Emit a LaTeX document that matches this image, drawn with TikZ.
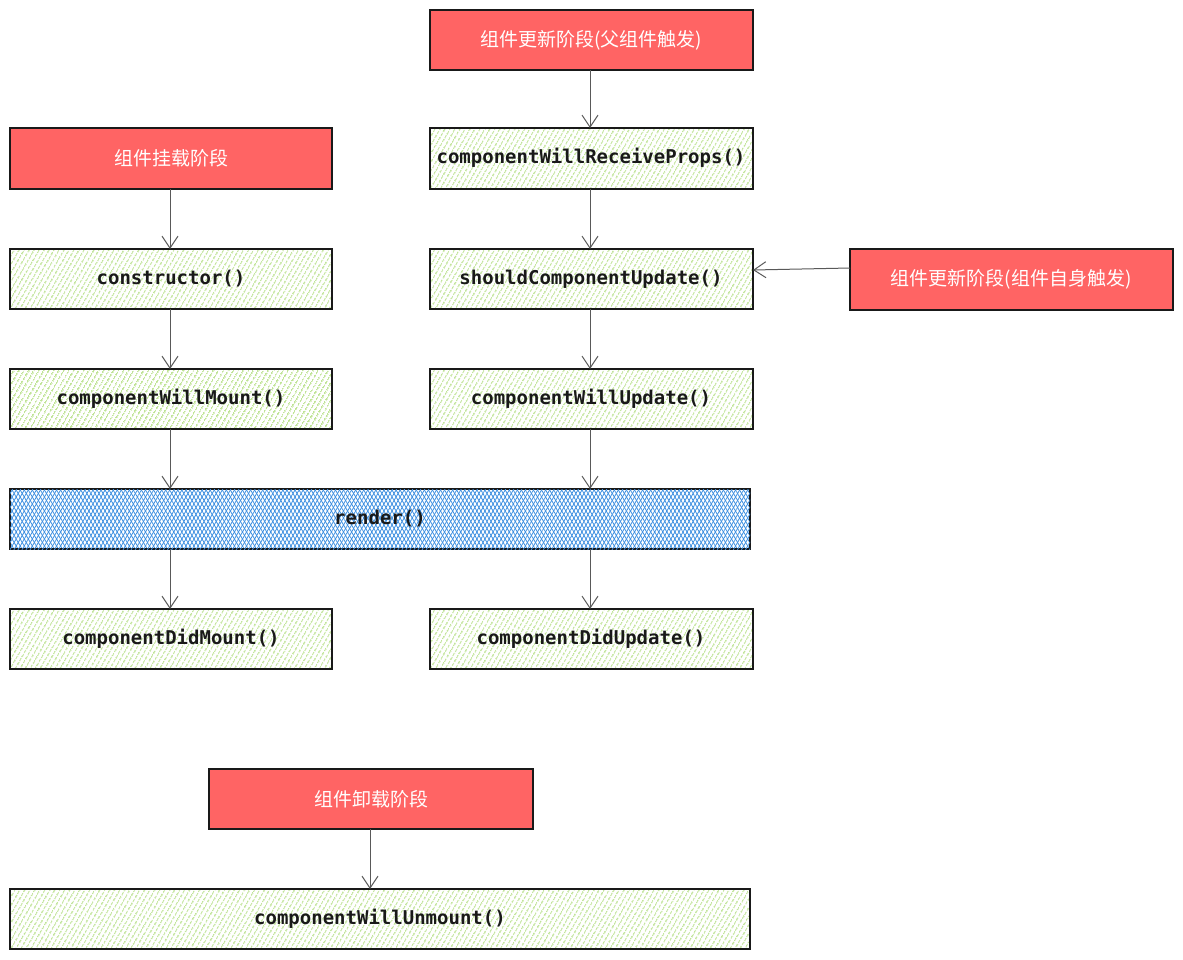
\documentclass[tikz,border=0pt]{standalone}
\usepackage{fontspec}
\newfontfamily\cjk{Noto Sans CJK SC}
\newfontfamily\mono{DejaVu Sans Mono}
\usetikzlibrary{patterns.meta,arrows.meta}
\definecolor{hgreen}{HTML}{9ED560}
\definecolor{hblue}{HTML}{3D8FE0}
\definecolor{rfill}{HTML}{FF6464}
\begin{document}
\begin{tikzpicture}[x=1pt,y=-1pt,
 box/.style={draw=black!90,line width=1.4pt,inner sep=0pt},
 green/.style={box,pattern={Lines[angle=60,distance=4pt,line width=1pt]},pattern color=hgreen},
 red/.style={box,fill=rfill},
 blue/.style={box,postaction={pattern={Lines[angle=60,distance=3.5pt,line width=0.8pt]},pattern color=hblue},pattern={Lines[angle=-60,distance=3.5pt,line width=0.8pt]},pattern color=hblue},
 lab/.style={font=\mono\bfseries\fontsize{19}{22}\selectfont,text=black!90},
 clab/.style={font=\cjk\fontsize{19}{22}\selectfont,text=white},
 arr/.style={draw=black!65,line width=1pt,-{Straight Barb[length=12pt,width=16pt]}}]
\useasboundingbox (0,0) rectangle (1183,959);
\draw[red] (430,10) rectangle (753,70); \node[clab] (pu) at (591,40) {组件更新阶段(父组件触发)};
\draw[red] (10,128) rectangle (332,189); \node[clab] (mt) at (171,158) {组件挂载阶段};
\draw[green] (430,128) rectangle (753,189); \node[lab] (wrp) at (591,158) {componentWillReceiveProps()};
\draw[green] (10,249) rectangle (332,309); \node[lab] (ctor) at (171,279) {constructor()};
\draw[green] (430,249) rectangle (753,309); \node[lab] (scu) at (591,279) {shouldComponentUpdate()};
\draw[red] (850,249) rectangle (1173,310); \node[clab] (su) at (1011,279) {组件更新阶段(组件自身触发)};
\draw[green] (10,369) rectangle (332,429); \node[lab] (wm) at (171,399) {componentWillMount()};
\draw[green] (430,369) rectangle (753,429); \node[lab] (wu) at (591,399) {componentWillUpdate()};
\draw[blue] (10,489) rectangle (750,549); \node[lab] (rd) at (380,519) {render()};
\draw[green] (10,609) rectangle (332,669); \node[lab] (dm) at (171,639) {componentDidMount()};
\draw[green] (430,609) rectangle (753,669); \node[lab] (du) at (591,639) {componentDidUpdate()};
\draw[red] (209,769) rectangle (533,829); \node[clab] (um) at (371,799) {组件卸载阶段};
\draw[green] (10,889) rectangle (750,949); \node[lab] (wum) at (380,919) {componentWillUnmount()};
\coordinate (a1) at (590,70); \coordinate (a2) at (590,128); \draw[arr] (a1) -- (a2);
\coordinate (b1) at (590,189); \coordinate (b2) at (590,249); \draw[arr] (b1) -- (b2);
\coordinate (c1) at (590,309); \coordinate (c2) at (590,369); \draw[arr] (c1) -- (c2);
\coordinate (d1) at (590,429); \coordinate (d2) at (590,489); \draw[arr] (d1) -- (d2);
\coordinate (e1) at (590,549); \coordinate (e2) at (590,609); \draw[arr] (e1) -- (e2);
\coordinate (f1) at (170,189); \coordinate (f2) at (170,249); \draw[arr] (f1) -- (f2);
\coordinate (g1) at (170,309); \coordinate (g2) at (170,369); \draw[arr] (g1) -- (g2);
\coordinate (h1) at (170,429); \coordinate (h2) at (170,489); \draw[arr] (h1) -- (h2);
\coordinate (i1) at (170,549); \coordinate (i2) at (170,609); \draw[arr] (i1) -- (i2);
\coordinate (j1) at (370,829); \coordinate (j2) at (370,889); \draw[arr] (j1) -- (j2);
\coordinate (k1) at (850,268); \coordinate (k2) at (753,270); \draw[arr] (k1) -- (k2);
\end{tikzpicture}
\end{document}
